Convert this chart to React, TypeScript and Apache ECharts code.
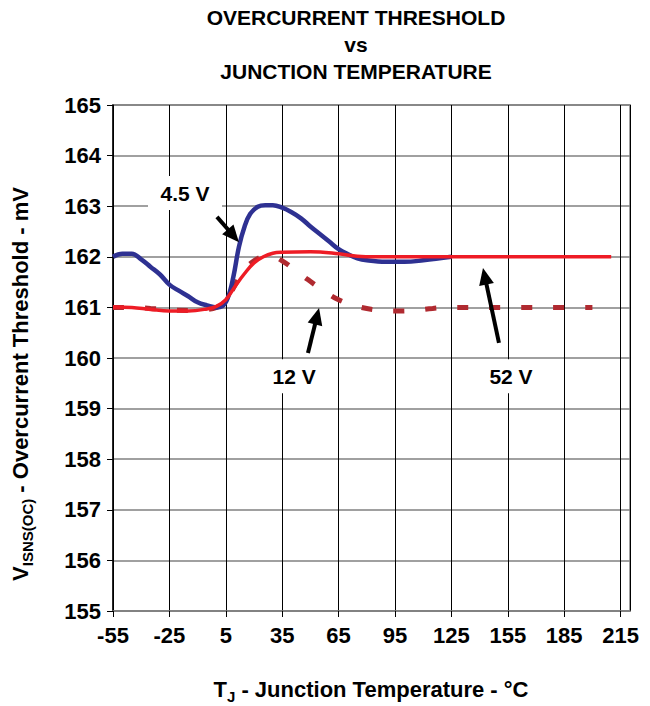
import React, { useEffect, useRef } from 'react';
import * as echarts from 'echarts';

// ---- data ----
const xTicks = [-55, -25, 5, 35, 65, 95, 125, 155, 185, 215];

const t45 = [-55, -50, -45, -40, -35, -30, -25, -20, -15, -10, -5, 0, 3, 6, 9, 12, 15, 18, 22, 26, 30, 35, 40, 45, 50, 55, 60, 65, 70, 75, 80, 90, 100, 110, 125];
const v45 = [162.0, 162.06, 162.06, 161.95, 161.8, 161.65, 161.45, 161.33, 161.22, 161.1, 161.04, 161.0, 161.02, 161.18, 161.6, 162.2, 162.6, 162.85, 162.99, 163.02, 163.02, 162.97, 162.88, 162.76, 162.6, 162.45, 162.3, 162.15, 162.05, 161.97, 161.93, 161.9, 161.9, 161.93, 162.0];

const t12 = [-55, -45, -35, -25, -15, -5, 0, 5, 10, 15, 20, 25, 30, 35, 45, 55, 65, 75, 85, 95, 105, 115, 125, 155, 185, 200];
const v12 = [161.0, 161.0, 160.98, 160.95, 160.94, 160.96, 161.0, 161.12, 161.45, 161.75, 161.92, 162.0, 162.0, 161.92, 161.65, 161.38, 161.15, 161.02, 160.95, 160.93, 160.94, 160.98, 161.0, 161.0, 161.0, 161.0];

const t52 = [-55, -45, -35, -25, -15, -5, 0, 5, 10, 15, 20, 25, 30, 35, 50, 65, 75, 85, 125, 155, 185, 210];
const v52 = [161.01, 161.0, 160.96, 160.93, 160.93, 160.97, 161.02, 161.15, 161.42, 161.67, 161.88, 162.0, 162.07, 162.09, 162.1, 162.06, 162.01, 162.0, 162.0, 162.0, 162.0, 162.0];

const seriesNames = ['12 V', '4.5 V', '52 V'];

// annotation labels and arrows, in data coordinates [temperature, mV]
const annLabels = ['4.5 V', '12 V', '52 V'];
const annLabelAt = [[-16.7, 163.26], [41.3, 159.64], [156.7, 159.64]];
const annArrowTail = [[0.3, 162.79], [48.7, 160.1], [150.3, 160.3]];
const annArrowHead = [[12.0, 162.29], [54.6, 160.99], [141.8, 161.78]];

const FONT = '"Liberation Sans", Arial, sans-serif';

const zip = (a: number[], b: number[]) => a.map((x, i) => [x, b[i]]);

export default function App() {
  const ref = useRef<HTMLDivElement>(null);
  useEffect(() => {
    if (!ref.current) return;
    const chart = echarts.init(ref.current, null, { renderer: 'svg' });
    const labelStyle = { fontFamily: FONT, fontWeight: 'bold' as const, fontSize: 22, color: '#000' };
    chart.setOption({
      animation: false,
      backgroundColor: '#fff',
      grid: { left: 113, right: 20, top: 105, bottom: 95, show: true, borderColor: '#a0a0a0', borderWidth: 2, backgroundColor: 'transparent' },
      xAxis: {
        type: 'value', min: -55, max: 220, interval: 30,
        axisLine: { show: true, onZero: false, lineStyle: { color: '#808080', width: 1.5 } },
        axisTick: { show: true, length: 6, lineStyle: { color: '#000', width: 1 } },
        splitLine: { show: true, lineStyle: { color: '#000', width: 1 } },
        axisLabel: { ...labelStyle, margin: 13, showMaxLabel: false, formatter: (v: number) => (xTicks.includes(v) ? String(v) : '') },
      },
      yAxis: {
        type: 'value', min: 155, max: 165, interval: 1,
        axisLine: { show: true, onZero: false, lineStyle: { color: '#000', width: 1.5 } },
        axisTick: { show: true, length: 6, lineStyle: { color: '#000', width: 1 } },
        splitLine: { show: true, lineStyle: { color: '#808080', width: 1.5 } },
        axisLabel: { ...labelStyle, margin: 12 },
      },
      series: [
        { name: seriesNames[0], type: 'line', data: zip(t12, v12), smooth: 0.4, showSymbol: false, lineStyle: { color: '#b02a30', width: 5, type: [11, 21] } },
        { name: seriesNames[1], type: 'line', data: zip(t45, v45), smooth: 0.4, showSymbol: false, lineStyle: { color: '#2e3192', width: 4.5 } },
        { name: seriesNames[2], type: 'line', data: zip(t52, v52), smooth: 0.4, showSymbol: false, lineStyle: { color: '#ee1c25', width: 3.5 } },
      ],
    });

    const graphics: any[] = [];
    const titleLines = ['OVERCURRENT THRESHOLD', 'vs', 'JUNCTION TEMPERATURE'];
    const titleY = [17, 44, 71];
    titleLines.forEach((t, i) => {
      graphics.push({ type: 'text', x: 356, y: titleY[i], style: { text: t, fontFamily: FONT, fontWeight: 'bold', fontSize: 21, fill: '#000', align: 'center', verticalAlign: 'middle' } });
    });
    const rich = {
      v: { fontFamily: FONT, fontWeight: 'bold', fontSize: 22, lineHeight: 24, verticalAlign: 'top', fill: '#000' },
      s: { fontFamily: FONT, fontWeight: 'bold', fontSize: 15, lineHeight: 15, padding: [11, 0, 0, 0], verticalAlign: 'top', fill: '#000' },
    };
    // y axis name
    graphics.push({
      type: 'text', x: 21, y: 384, rotation: Math.PI / 2,
      style: { text: '{v|V}{s|ISNS(OC)}{v| - Overcurrent Threshold - mV}', align: 'center', verticalAlign: 'middle', fill: '#000', rich },
    });
    // x axis name
    graphics.push({
      type: 'text', x: 371, y: 690,
      style: { text: '{v|T}{s|J}{v| - Junction Temperature - °C}', align: 'center', verticalAlign: 'middle', fill: '#000', rich },
    });

    // annotations
    annLabels.forEach((lab, i) => {
      const c = chart.convertToPixel({ gridIndex: 0 }, annLabelAt[i]) as number[];
      const w = lab.length > 4 ? 74 : 66;
      graphics.push({ type: 'rect', z: 50, shape: { x: c[0] - w / 2, y: c[1] - 17, width: w, height: 34 }, style: { fill: '#fff' } });
      graphics.push({ type: 'text', z: 51, x: c[0], y: c[1], style: { text: lab, fontFamily: FONT, fontWeight: 'bold', fontSize: 21, fill: '#000', align: 'center', verticalAlign: 'middle' } });
      const p0 = chart.convertToPixel({ gridIndex: 0 }, annArrowTail[i]) as number[];
      const p1 = chart.convertToPixel({ gridIndex: 0 }, annArrowHead[i]) as number[];
      const dx = p1[0] - p0[0], dy = p1[1] - p0[1];
      const len = Math.hypot(dx, dy);
      const ux = dx / len, uy = dy / len;
      const L = 17, W = 7.5;
      const bx = p1[0] - ux * L, by = p1[1] - uy * L;
      graphics.push({ type: 'line', z: 52, shape: { x1: p0[0], y1: p0[1], x2: bx + ux * 2, y2: by + uy * 2 }, style: { stroke: '#000', lineWidth: 4 } });
      graphics.push({ type: 'polygon', z: 52, shape: { points: [[p1[0], p1[1]], [bx - uy * W, by + ux * W], [bx + uy * W, by - ux * W]] }, style: { fill: '#000' } });
    });

    chart.setOption({ graphic: graphics });
    return () => chart.dispose();
  }, []);
  return <div ref={ref} style={{ position: 'fixed', left: 0, top: 0, width: 650, height: 706 }} />;
}
